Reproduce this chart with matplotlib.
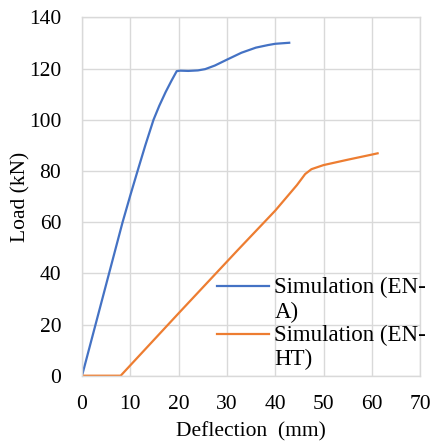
import matplotlib
matplotlib.use("Agg")
import matplotlib.pyplot as plt
from matplotlib.legend_handler import HandlerLine2D

plt.rcParams['font.family'] = 'serif'
plt.rcParams['font.serif'] = ['Liberation Serif', 'DejaVu Serif']

# Data
ena_x = [0, 2.8, 5.6, 8.4, 10.0, 11.5, 13.1, 14.8, 16.0, 17.3, 18.5, 19.6, 20.3, 22.0, 24.0, 25.5, 27.5, 30.0, 33.0, 36.0, 38.5, 40.0, 42.9]
ena_y = [0, 20, 40, 60, 70.5, 80, 90, 100, 105.5, 110.8, 115.2, 119, 119.2, 119.1, 119.3, 119.8, 121.2, 123.5, 126.2, 128.2, 129.2, 129.7, 130.1]

enht_x = [0, 8.0, 20.0, 32.2, 40.0, 44.5, 46.2, 47.5, 50.0, 55.0, 60.0, 61.2]
enht_y = [0, 0, 24.4, 49.0, 64.5, 74.5, 78.8, 80.7, 82.3, 84.4, 86.4, 86.9]

labels = ["Simulation (EN-\nA)", "Simulation (EN-\nHT)"]
xticks = [0, 10, 20, 30, 40, 50, 60, 70]
yticks = [0, 20, 40, 60, 80, 100, 120, 140]

FS = 15.5
LEG_FS = 16.5


class FirstLineHandler(HandlerLine2D):
    """Align the legend line with the first line of a two-line label."""
    def __init__(self, dy, **kw):
        super().__init__(**kw)
        self.dy = dy

    def create_artists(self, legend, orig_handle, xdescent, ydescent,
                       width, height, fontsize, trans):
        arts = super().create_artists(legend, orig_handle, xdescent, ydescent,
                                      width, height, fontsize, trans)
        for a in arts:
            a.set_ydata([y + self.dy for y in a.get_ydata()])
        return arts


fig = plt.figure(figsize=(4.34, 4.47), dpi=100)
ax = fig.add_axes([0.189, 0.1595, 0.779, 0.8015])

l1, = ax.plot(ena_x, ena_y, color='#4472C4', lw=1.6, label=labels[0])
l2, = ax.plot(enht_x, enht_y, color='#ED7D31', lw=1.6, label=labels[1])

ax.set_xlim(0, 70)
ax.set_ylim(0, 140)
ax.set_xticks(xticks)
ax.set_yticks(yticks)
ax.grid(True, color='#D9D9D9', lw=1.0)
ax.set_axisbelow(True)
for s in ax.spines.values():
    s.set_color('#D9D9D9')
    s.set_linewidth(1.0)
ax.tick_params(length=0, labelsize=FS, colors='black')
ax.tick_params(axis='x', pad=14)
ax.tick_params(axis='y', pad=15)

ax.set_xlabel("Deflection  (mm)", fontsize=FS, labelpad=6)
ax.set_ylabel("Load (kN)", fontsize=FS, labelpad=-1)

dy = 0.5 * 1.2 * LEG_FS
leg = ax.legend(loc='upper left', bbox_to_anchor=(0.398, 0.275), frameon=False,
                fontsize=LEG_FS, handlelength=2.3, handletextpad=0.22,
                labelspacing=0.08, borderaxespad=0, borderpad=0,
                handler_map={l1: FirstLineHandler(dy), l2: FirstLineHandler(dy)})

fig.savefig("out.png", dpi=100)
